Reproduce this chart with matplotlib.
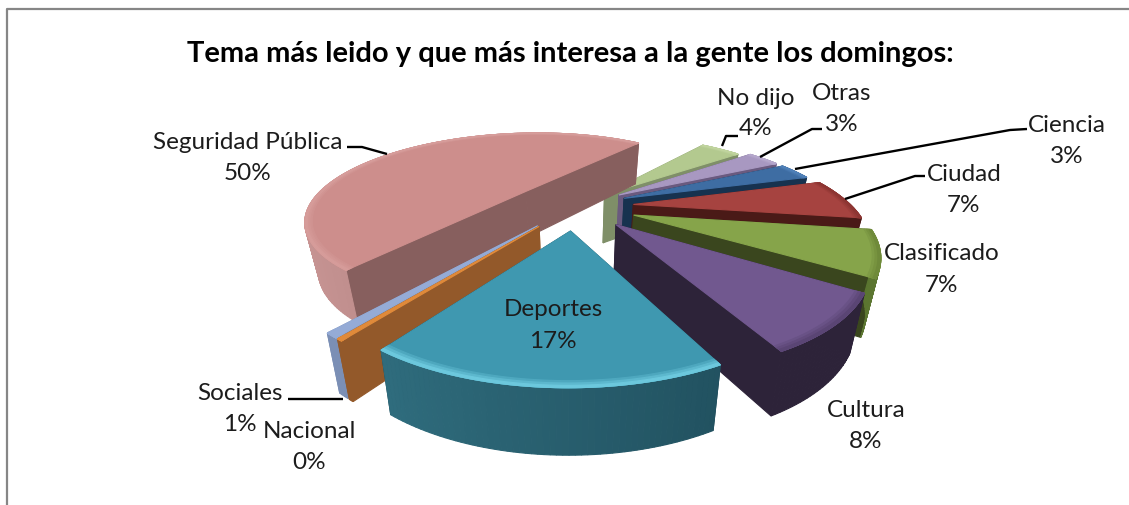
import matplotlib
matplotlib.use('Agg')
import matplotlib.pyplot as plt
import numpy as np
from matplotlib.colors import to_rgb
from matplotlib.patches import Polygon

# data, clockwise starting at Seguridad Publica
temas = ['Seguridad Pública', 'No dijo', 'Otras', 'Ciencia', 'Ciudad', 'Clasificado',
         'Cultura', 'Deportes', 'Nacional', 'Sociales']
valores = [50.2, 3.8, 3.0, 3.0, 7.0, 7.2, 8.2, 16.6, 0.3, 0.7]
titulo = 'Tema más leido y que más interesa a la gente los domingos:'

# styles
explosion = [0.30, 0.20, 0.25, 0.25, 0.27, 0.28, 0.27, 0.27, 0.27, 0.27]
grosor = [0.9, 0.95, 0.95, 0.95, 0.95, 1.0, 1.0, 1.0, 0.95, 0.95]
color_top = ['#cd8e8c', '#b3c98f', '#a898c1', '#3e6da3', '#a64340', '#86a44a',
             '#71588f', '#3f98b0', '#e08a3a', '#95abd6']
color_rim = ['#d69c9a', '#c0d49e', '#b5a7cc', '#4f80b8', '#8d3532', '#6f8a3a',
             '#5a4574', '#6cc8dd', '#e08a3a', '#95abd6']
color_wall = ['#875f5e', '#7f8f68', '#6a5a7f', '#17324f', '#4a1a17', '#3a461e',
              '#2d2339', '#1c4450', '#93592a', '#7b8fb5']
wall_left = ['#c99695', '#7f8f68', '#6a5a7f', '#17324f', '#4a1a17', '#6f8c38',
             '#2d2339', '#35788a', '#93592a', '#7b8fb5']
wall_right = ['#a07271', '#7f8f68', '#6a5a7f', '#17324f', '#4a1a17', '#5a7430',
              '#2d2339', '#1a4350', '#93592a', '#7b8fb5']

# label centres: (x, y first line, y second line)
pos_labels = {'Seguridad Pública': (248, 142, 173), 'No dijo': (756, 98, 128), 'Otras': (842, 93, 124),
              'Ciencia': (1067, 125, 156), 'Ciudad': (964, 174, 205), 'Clasificado': (942, 254, 285),
              'Cultura': (866, 411, 442), 'Deportes': (553, 310, 341), 'Sociales': (240, 394, 425),
              'Nacional': (309, 432, 463)}
leaders = [[(347, 148), (362, 148), (387, 155)],
           [(738, 137), (726, 137), (722, 147)],
           [(822, 130), (812, 130), (760, 158)],
           [(1027, 130), (1010, 131), (795, 170)],
           [(925, 177), (915, 177), (845, 200)],
           [(288, 400), (343, 400)]]

# view
CX, CY = 575, 207
RADIO = 218
SQUASH = 0.39
PERSP = 0.32
ALTO = 52
TAPER = 0.05
ANGULO_INICIO = 217.5


def project(gx, gy, z=0.0, alto=1.0):
    scale = 1 / (1 + PERSP * gy)
    x = CX + RADIO * gx * scale * (1 - TAPER * z)
    y = CY - RADIO * SQUASH * gy * scale + ALTO * alto * z * np.sqrt(scale)
    return x, y


def ground(a, r, apex):
    return apex[0] + r * np.sin(a), apex[1] + r * np.cos(a)


def mix(c1, c2, t):
    c1, c2 = np.array(to_rgb(c1)), np.array(to_rgb(c2))
    return tuple(c1 + (c2 - c1) * t)


def add_poly(ax, pts, color, zorder):
    ax.add_patch(Polygon(pts, closed=True, facecolor=color, edgecolor=color, linewidth=0.8, zorder=zorder))


def draw_slice(ax, a1, a2, i, zorder):
    mid = (a1 + a2) / 2
    apex = (explosion[i] * np.sin(mid), explosion[i] * np.cos(mid))
    angs = np.linspace(a1, a2, max(4, int(np.degrees(a2 - a1))))
    alto = grosor[i]

    # walls, far ones first
    faces = []
    for j in range(len(angs) - 1):
        g1, g2 = ground(angs[j], 1, apex), ground(angs[j + 1], 1, apex)
        pts = [project(*g1), project(*g2), project(*g2, 1, alto), project(*g1, 1, alto)]
        # outer wall goes light to dark across the screen
        t = np.clip((np.sin((angs[j] + angs[j + 1]) / 2) + 1) / 2, 0, 1)
        faces.append(((g1[1] + g2[1]) / 2, pts, mix(wall_left[i], wall_right[i], t)))
    for a in (a1, a2):
        g = ground(a, 1, apex)
        pts = [project(*apex), project(*g), project(*g, 1, alto), project(*apex, 1, alto)]
        faces.append(((g[1] + apex[1]) / 2, pts, color_wall[i]))
    for _, pts, c in sorted(faces, key=lambda f: -f[0]):
        add_poly(ax, pts, c, zorder)

    # top face and soft rim
    top = [project(*apex)] + [project(*ground(a, 1, apex)) for a in angs]
    add_poly(ax, top, color_top[i], zorder + 0.1)
    for k, r in enumerate([0.97, 0.98, 0.99]):
        c = mix(color_top[i], color_rim[i], (k + 1) / 3)
        ring = [project(*ground(a, 1, apex)) for a in angs] + [project(*ground(a, r, apex)) for a in angs[::-1]]
        add_poly(ax, ring, c, zorder + 0.2 + k * 0.01)


def main():
    plt.rcParams['font.family'] = ['Lato', 'DejaVu Sans']
    fig = plt.figure(figsize=(11.29, 5.06), dpi=100)
    ax = fig.add_axes([0, 0, 1, 1])
    ax.set_xlim(0, 1129)
    ax.set_ylim(506, 0)
    ax.axis('off')

    # frame of the pasted chart
    ax.plot([7, 7, 1129], [506, 10, 10], color='#868686', lw=1.6, zorder=1)

    cuts = np.radians(ANGULO_INICIO + np.concatenate([[0], np.cumsum(valores)]) * 3.6)
    orden = sorted(range(len(valores)), key=lambda i: -np.cos((cuts[i] + cuts[i + 1]) / 2))
    for z, i in enumerate(orden):
        draw_slice(ax, cuts[i], cuts[i + 1], i, 2 + z)

    for pts in leaders:
        xs, ys = zip(*pts)
        ax.plot(xs, ys, color='black', lw=1.7, zorder=30, solid_capstyle='butt')

    for tema, v in zip(temas, valores):
        x, y1, y2 = pos_labels[tema]
        ax.text(x, y1, tema, ha='center', va='center', fontsize=17.5, color='#1c1c1c', zorder=40)
        ax.text(x, y2, '%d%%' % round(v), ha='center', va='center', fontsize=17.5, color='#1c1c1c', zorder=40)

    ax.text(570, 54, titulo, ha='center', va='center', fontsize=21, fontweight='bold', color='black', zorder=40)

    fig.savefig('out.png', dpi=100)


if __name__ == '__main__':
    main()
